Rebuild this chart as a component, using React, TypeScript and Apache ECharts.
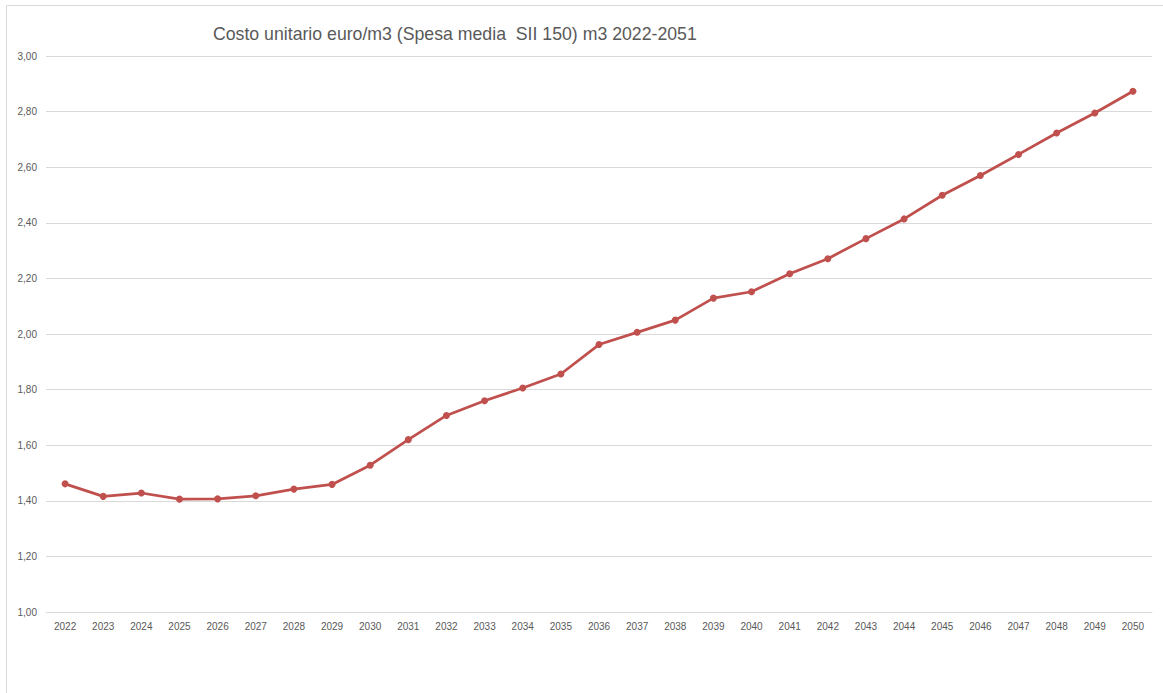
import React, { useEffect, useRef } from "react";
import * as echarts from "echarts";

const years: string[] = [
  "2022", "2023", "2024", "2025", "2026", "2027", "2028", "2029", "2030", "2031",
  "2032", "2033", "2034", "2035", "2036", "2037", "2038", "2039", "2040", "2041",
  "2042", "2043", "2044", "2045", "2046", "2047", "2048", "2049", "2050",
];

const costoUnitario: number[] = [
  1.461, 1.416, 1.428, 1.406, 1.407, 1.418, 1.442, 1.459, 1.528, 1.62,
  1.707, 1.76, 1.806, 1.856, 1.962, 2.006, 2.05, 2.129, 2.152, 2.217,
  2.271, 2.343, 2.414, 2.499, 2.57, 2.646, 2.723, 2.795, 2.873,
];

const titleText = "Costo unitario euro/m3 (Spesa media  SII 150) m3 2022-2051";

const FONT = "'Liberation Sans', Arial, sans-serif";

export default function App() {
  const ref = useRef<HTMLDivElement>(null);

  useEffect(() => {
    document.body.style.margin = "0";
    if (!ref.current) return;
    const chart = echarts.init(ref.current, null, { renderer: "svg" });
    chart.setOption({
      animation: false,
      backgroundColor: "#ffffff",
      textStyle: { fontFamily: FONT },
      title: {
        text: titleText,
        left: 208,
        top: 20,
        textStyle: {
          fontFamily: FONT,
          fontSize: 17.7,
          fontWeight: "normal",
          color: "#595959",
        },
      },
      graphic: [
        {
          type: "rect",
          shape: { x: 6.5, y: 5.5, width: 1200, height: 800 },
          style: { fill: "none", stroke: "#d9d9d9", lineWidth: 1 },
          silent: true,
        },
      ],
      grid: { left: 46, right: 11, top: 56, bottom: 81, containLabel: false },
      xAxis: {
        type: "category",
        data: years,
        boundaryGap: true,
        axisLine: { show: true, lineStyle: { color: "#d9d9d9", width: 1 } },
        axisTick: { show: false },
        axisLabel: {
          color: "#595959",
          fontSize: 10,
          margin: 9,
          interval: 0,
          fontFamily: FONT,
        },
        splitLine: { show: false },
      },
      yAxis: {
        type: "value",
        min: 1,
        max: 3,
        interval: 0.2,
        axisLine: { show: false },
        axisTick: { show: false },
        axisLabel: {
          color: "#595959",
          fontSize: 10,
          margin: 9,
          fontFamily: FONT,
          formatter: (v: number) => v.toFixed(2).replace(".", ","),
        },
        splitLine: { show: true, lineStyle: { color: "#d9d9d9", width: 1 } },
      },
      series: [
        {
          type: "line",
          data: costoUnitario,
          symbol: "circle",
          symbolSize: 7,
          lineStyle: { color: "#C0504D", width: 2.75 },
          itemStyle: { color: "#C0504D" },
        },
      ],
    });
    return () => chart.dispose();
  }, []);

  return <div ref={ref} style={{ width: 1163, height: 693 }} />;
}
